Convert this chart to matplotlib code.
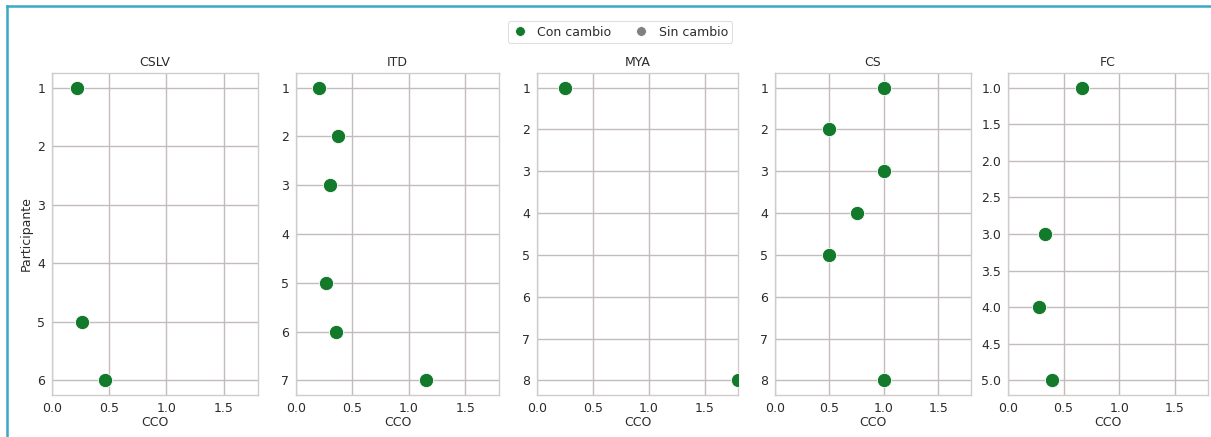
import matplotlib
matplotlib.use("Agg")
import matplotlib.pyplot as plt
from matplotlib.ticker import MultipleLocator
from matplotlib.lines import Line2D

# Data per group: participant index and CCO value
groups = ["CSLV", "ITD", "MYA", "CS", "FC"]

cslv_participante = [1, 5, 6]
cslv_cco = [0.22, 0.26, 0.46]

itd_participante = [1, 2, 3, 5, 6, 7]
itd_cco = [0.20, 0.37, 0.30, 0.265, 0.355, 1.155]

mya_participante = [1, 8]
mya_cco = [0.25, 1.80]

cs_participante = [1, 2, 3, 4, 5, 8]
cs_cco = [1.0, 0.5, 1.0, 0.75, 0.5, 1.0]

fc_participante = [1.0, 3.0, 4.0, 5.0]
fc_cco = [0.667, 0.333, 0.28, 0.40]

# Tick spacing on the participant axis for each group
y_tick_step = [1, 1, 1, 1, 0.5]

x_ticks = [0.0, 0.5, 1.0, 1.5]
x_limits = (0.0, 1.8)

legend_labels = ["Con cambio", "Sin cambio"]
color_change = "#137a2c"
color_nochange = "#808080"

series = [
    (cslv_participante, cslv_cco),
    (itd_participante, itd_cco),
    (mya_participante, mya_cco),
    (cs_participante, cs_cco),
    (fc_participante, fc_cco),
]

W, H = 1211, 437
fig = plt.figure(figsize=(W / 100, H / 100), dpi=100)
fig.patch.set_facecolor("white")

# Axes boxes in pixels: left, right, top, bottom
boxes = [
    (52, 258, 73, 395),
    (296, 499, 73, 395),
    (537, 738, 73, 395),
    (775, 971, 73, 395),
    (1008, 1208, 73, 395),
]

grid_color = "#c2bcbc"
text_color = "#2b2b2b"
fs = 9

for i, (name, (ys, xs), (l, r, t, b)) in enumerate(zip(groups, series, boxes)):
    ax = fig.add_axes([l / W, 1 - b / H, (r - l) / W, (b - t) / H])
    ax.scatter(xs, ys, s=105, color=color_change, edgecolor="white",
               linewidth=0.6, zorder=3)
    ax.set_xlim(*x_limits)
    ax.margins(y=0.05)
    ax.invert_yaxis()
    ax.set_xticks(x_ticks)
    ax.yaxis.set_major_locator(MultipleLocator(y_tick_step[i]))
    ax.grid(True, color=grid_color, linewidth=1.0)
    ax.set_axisbelow(True)
    for sp in ax.spines.values():
        sp.set_color("#d0cccc")
        sp.set_linewidth(1.0)
    ax.tick_params(length=0, labelsize=fs, colors=text_color, pad=5)
    ax.set_title(name, fontsize=fs, color=text_color, pad=5)
    ax.set_xlabel("CCO", fontsize=fs, color=text_color, labelpad=1)
    if i == 0:
        ax.set_ylabel("Participante", fontsize=fs, color=text_color, labelpad=3)

handles = [
    Line2D([], [], marker="o", linestyle="", markersize=7,
           markerfacecolor=color_change, markeredgecolor="white", markeredgewidth=0.5),
    Line2D([], [], marker="o", linestyle="", markersize=7,
           markerfacecolor=color_nochange, markeredgecolor="white", markeredgewidth=0.5),
]
leg = fig.legend(handles, legend_labels, loc="center", ncol=2,
                 bbox_to_anchor=(620 / W, 1 - 32 / H), fontsize=fs,
                 frameon=True, handletextpad=0.8, columnspacing=1.8,
                 borderpad=0.35, handlelength=1.2)
leg.get_frame().set_edgecolor("#d8d8d8")
leg.get_frame().set_linewidth(0.8)
for txt in leg.get_texts():
    txt.set_color(text_color)

# Frame lines along the top and left edges
border = "#3aa9c4"
fig.add_artist(Line2D([7 / W, 7 / W], [0, 1 - 6 / H], transform=fig.transFigure,
                      color=border, linewidth=1.8))
fig.add_artist(Line2D([7 / W, 1], [1 - 6 / H, 1 - 6 / H], transform=fig.transFigure,
                      color=border, linewidth=1.8))

fig.savefig("out.png", dpi=100, facecolor="white")
